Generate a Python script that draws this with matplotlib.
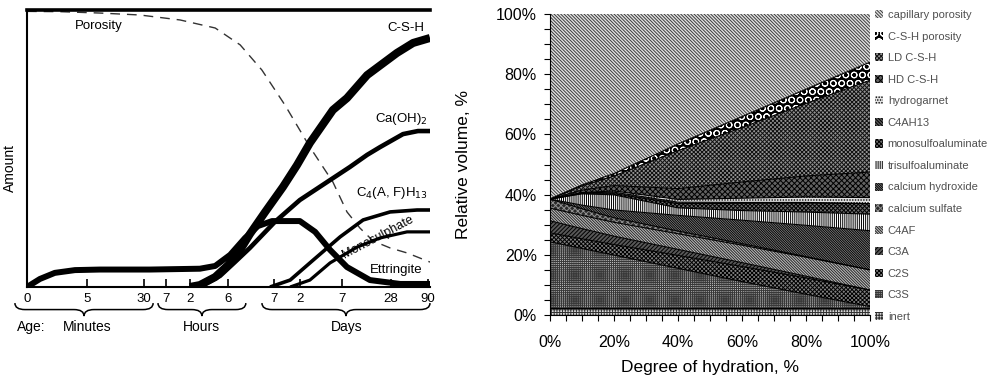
import matplotlib
matplotlib.use("Agg")
import matplotlib.pyplot as plt
from matplotlib.path import Path
from matplotlib.patches import PathPatch
from matplotlib.ticker import MultipleLocator

plt.rcParams['font.family'] = ['Liberation Sans', 'DejaVu Sans']
plt.rcParams['hatch.linewidth'] = 0.7

# ---- left panel: hydration products vs age (position along a log-ish time axis, 0..100)
tick_pos    = [0, 14.9, 29.0, 34.5, 40.4, 49.9, 61.3, 67.7, 78.2, 90.3, 99.5]
tick_labels = ['0', '5', '30', '7', '2', '6', '7', '2', '7', '28', '90']

por_x = [0, 8.2, 18.1, 28.0, 38.0, 46.7, 52.9, 58.3, 64.0, 70.2, 75.9, 79.4, 82.6, 85.9, 90.1, 94.3, 100]
por_y = [99.5, 99.4, 98.9, 98.2, 96.4, 93.5, 87.4, 78.3, 65.7, 50.5, 37.9, 27.1, 21.3, 16.6, 14.1, 12.3, 9.0]

ett_x = [0, 3.2, 6.9, 11.9, 18.1, 30.5, 42.9, 46.7, 50.4, 54.1, 57.3, 60.8, 67.7, 71.5, 75.2, 79.4, 85.1, 92.6, 100]
ett_y = [0, 2.9, 5.1, 6.1, 6.3, 6.3, 6.6, 7.6, 11.6, 17.7, 22.0, 23.8, 23.8, 19.9, 13.4, 7.2, 2.5, 1.1, 1.1]

csh_x = [40.4, 42.9, 46.7, 49.9, 52.9, 55.3, 59.1, 63.5, 67.0, 70.2, 75.9, 79.4, 84.4, 91.8, 95.8, 100]
csh_y = [0, 0.7, 3.6, 7.9, 13.4, 19.1, 27.1, 36.1, 44.0, 52.0, 63.9, 68.2, 76.5, 84.5, 88.1, 89.9]

ch_x = [40.4, 44.2, 47.9, 51.6, 55.3, 61.5, 67.7, 75.2, 80.1, 84.4, 87.6, 93.3, 97.0, 100]
ch_y = [0, 1.1, 4.0, 9.0, 14.1, 23.5, 31.4, 38.6, 43.3, 47.7, 50.5, 55.2, 56.3, 56.3]

c4ah_x = [60.3, 65.3, 71.0, 77.7, 83.4, 90.1, 96.8, 100]
c4ah_y = [0, 2.5, 9.7, 18.1, 24.2, 27.1, 27.8, 27.8]

mono_x = [65.3, 70.2, 75.2, 81.9, 87.6, 94.3, 100]
mono_y = [0, 2.5, 8.7, 14.4, 17.7, 19.9, 19.9]

# ---- right panel: stacked volume fractions vs degree of hydration
hyd = [0, 10, 20, 40, 60, 80, 100]
inert       = [2.3, 2.3, 2.3, 2.3, 2.3, 2.3, 2.3]
c3s         = [22.0, 19.8, 17.6, 13.2, 8.8, 4.6, 0.5]
c2s         = [3.0, 3.2, 3.5, 4.3, 5.0, 5.4, 5.5]
c3a         = [4.0, 3.4, 2.8, 2.0, 1.3, 0.6, 0.0]
c4af        = [4.2, 4.4, 4.6, 5.2, 5.8, 6.3, 6.7]
sulfate     = [3.0, 2.2, 1.5, 0.9, 0.5, 0.2, 0.0]
ch          = [0.0, 1.2, 2.6, 5.2, 7.8, 10.4, 13.0]
trisulfo    = [0.0, 3.8, 5.0, 2.5, 3.2, 4.4, 5.5]
monosulfo   = [0.0, 0.0, 0.4, 1.4, 2.4, 3.0, 3.5]
c4ah13      = [0.0, 0.3, 0.5, 0.5, 0.3, 0.2, 0.0]
hydrogarnet = [0.0, 0.1, 0.4, 0.9, 1.4, 1.8, 2.0]
hd_csh      = [0.0, 0.8, 1.8, 3.6, 5.4, 7.0, 8.5]
ld_csh      = [0.0, 1.4, 3.2, 12.6, 18.1, 24.1, 30.5]
csh_por     = [0.0, 0.3, 0.8, 2.2, 3.6, 4.7, 6.0]
cap_por     = [61.5, 56.8, 53.0, 43.2, 34.1, 25.0, 16.0]

names = ['inert', 'C3S', 'C2S', 'C3A', 'C4AF', 'calcium sulfate', 'calcium hydroxide',
         'trisulfoaluminate', 'monosulfoaluminate', 'C4AH13', 'hydrogarnet', 'HD C-S-H',
         'LD C-S-H', 'C-S-H porosity', 'capillary porosity']

# (face, hatch, hatch colour)
styles = [('#d6d6d6', '++++++', '#303030'),
          ('#bcbcbc', '++++++++', '#383838'),
          ('#808080', 'xxxxxxxx', 'black'),
          ('#585858', '////////', 'black'),
          ('#c0c0c0', '\\' * 12, '#282828'),
          ('#2a2a2a', 'xxxxxx', '#909090'),
          ('#8c8c8c', '\\' * 14, 'black'),
          ('white', '|' * 8, 'black'),
          ('#707070', 'xxxxxxxx', 'black'),
          ('#5a5a5a', '\\' * 10, 'black'),
          ('#e0e0e0', '......', 'black'),
          ('#626262', 'xxxxxx', 'black'),
          ('#939393', 'xxxxxxxx', '#101010'),
          ('black', 'OO', 'white'),
          ('#e2e2e2', '\\' * 10, '#3c3c3c')]


def brace(ax, xa, xb, y0, d, q=2.5):
    xm = (xa + xb) / 2
    ym = y0 - d / 2
    verts = [(xa, y0), (xa, ym), (xa + q, ym), (xm - q, ym), (xm, ym), (xm, y0 - d),
             (xm, ym), (xm + q, ym), (xb - q, ym), (xb, ym), (xb, y0)]
    codes = [Path.MOVETO, Path.CURVE3, Path.CURVE3, Path.LINETO, Path.CURVE3, Path.CURVE3,
             Path.CURVE3, Path.CURVE3, Path.LINETO, Path.CURVE3, Path.CURVE3]
    ax.add_patch(PathPatch(Path(verts, codes), fill=False, lw=1.1, color='black', clip_on=False))


fig = plt.figure(figsize=(9.9, 3.81), dpi=100)

# left panel
ax = fig.add_axes([27/990, 94/381, 403/990, 277/381])
ax.set_xlim(0, 100)
ax.set_ylim(0, 100)
ax.spines['right'].set_visible(False)
ax.spines['left'].set_linewidth(1.5)
ax.spines['bottom'].set_linewidth(1.5)
ax.spines['top'].set_linewidth(2.6)
ax.set_yticks([])
ax.set_xticks(tick_pos, tick_labels, fontsize=9.5)
ax.tick_params(axis='x', direction='in', length=6, width=1.2, pad=4)

ax.plot(por_x, por_y, color='#333333', lw=1.0, dashes=(7, 5))
ax.plot(ett_x, ett_y, color='black', lw=4.3, solid_capstyle='butt')
ax.plot(csh_x, csh_y, color='black', lw=5.8, solid_capstyle='butt')
ax.plot(ch_x, ch_y, color='black', lw=3.3, solid_capstyle='butt')
ax.plot(c4ah_x, c4ah_y, color='black', lw=2.6, solid_capstyle='butt')
ax.plot(mono_x, mono_y, color='black', lw=2.3, solid_capstyle='butt')

ax.text(11.9, 94.2, 'Porosity', fontsize=9.5, va='center')
ax.text(98.5, 93.5, 'C-S-H', fontsize=9.5, ha='right', va='center')
ax.text(99.5, 60.5, 'Ca(OH)$_2$', fontsize=9.5, ha='right', va='center')
ax.text(99.5, 34.0, 'C$_4$(A, F)H$_{13}$', fontsize=9.5, ha='right', va='center')
ax.text(87.0, 18.0, 'Monosulphate', fontsize=9, ha='center', va='center', rotation=28)
ax.text(91.5, 6.0, 'Ettringite', fontsize=9.5, ha='center', va='center')
ax.text(-4.2, 43, 'Amount', fontsize=10, rotation=90, ha='center', va='center')

brace(ax, -3.0, 31.3, -5.8, 4.7)
brace(ax, 32.5, 54.3, -5.8, 4.7)
brace(ax, 58.3, 100.0, -5.8, 4.7)
ax.text(-2.5, -14.4, 'Age:', fontsize=10, va='center')
ax.text(14.9, -14.4, 'Minutes', fontsize=10, ha='center', va='center')
ax.text(43.4, -14.4, 'Hours', fontsize=10, ha='center', va='center')
ax.text(79.4, -14.4, 'Days', fontsize=10, ha='center', va='center')

# right panel
ax2 = fig.add_axes([550/990, 66/381, 320/990, 301/381])
polys = ax2.stackplot(hyd, inert, c3s, c2s, c3a, c4af, sulfate, ch, trisulfo, monosulfo,
                      c4ah13, hydrogarnet, hd_csh, ld_csh, csh_por, cap_por, labels=names)
for poly, (fc, h, hc) in zip(polys, styles):
    poly.set_facecolor(fc)
    poly.set_edgecolor(hc)
    poly.set_hatch(h)
    poly.set_linewidth(0)
# band outlines
tops = [0.0] * len(hyd)
for vals in [inert, c3s, c2s, c3a, c4af, sulfate, ch, trisulfo, monosulfo,
             c4ah13, hydrogarnet, hd_csh, ld_csh, csh_por]:
    tops = [t + v for t, v in zip(tops, vals)]
    ax2.plot(hyd, tops, color='black', lw=0.8)

ax2.set_xlim(0, 100)
ax2.set_ylim(0, 100)
for s in ['top', 'right']:
    ax2.spines[s].set_visible(False)
ax2.set_xticks(range(0, 101, 20), [f'{v}%' for v in range(0, 101, 20)])
ax2.set_yticks(range(0, 101, 20), [f'{v}%' for v in range(0, 101, 20)])
ax2.xaxis.set_minor_locator(MultipleLocator(5))
ax2.yaxis.set_minor_locator(MultipleLocator(5))
ax2.tick_params(which='both', direction='out', length=4.5, width=0.8, labelsize=11.5)
ax2.tick_params(axis='x', which='both', pad=10)
ax2.tick_params(axis='y', which='both', pad=5)
ax2.set_ylabel('Relative volume, %', fontsize=12.5, labelpad=18)
ax2.set_xlabel('Degree of hydration, %', fontsize=12.5, labelpad=7)

ax2.legend(polys[::-1], names[::-1], loc='upper left', bbox_to_anchor=(875/990, 1 - 10/381),
           bbox_transform=fig.transFigure, frameon=False, fontsize=8, labelcolor='#505050',
           handlelength=0.75, handleheight=0.75, handletextpad=0.4, labelspacing=1.04,
           borderpad=0, borderaxespad=0)

fig.savefig('out.png', dpi=100)
